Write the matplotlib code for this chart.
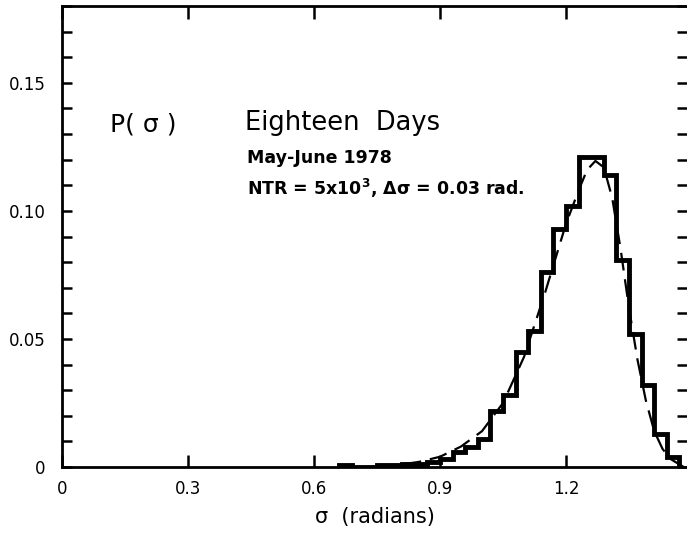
import numpy as np
import matplotlib
matplotlib.use("Agg")
import matplotlib.pyplot as plt

# histogram of sigma, bin width 0.03 rad
bin_edges = [0.66, 0.69, 0.72, 0.75, 0.78, 0.81, 0.84, 0.87, 0.90, 0.93,
             0.96, 0.99, 1.02, 1.05, 1.08, 1.11, 1.14, 1.17, 1.20, 1.23,
             1.26, 1.29, 1.32, 1.35, 1.38, 1.41, 1.44, 1.47]
p_sigma = [0.0008, 0.0, 0.0, 0.0006, 0.0006, 0.001, 0.001, 0.0018, 0.003,
           0.006, 0.008, 0.011, 0.022, 0.028, 0.045, 0.053, 0.076, 0.093,
           0.102, 0.121, 0.121, 0.114, 0.081, 0.052, 0.032, 0.013, 0.004]

# dashed fitted curve
fit_sigma = [0.75, 0.80, 0.85, 0.90, 0.95, 1.00, 1.05, 1.10, 1.15, 1.20,
             1.23, 1.25, 1.27, 1.29, 1.31, 1.33, 1.35, 1.37, 1.39, 1.41,
             1.43, 1.45, 1.48]
fit_p = [0.0003, 0.0008, 0.002, 0.004, 0.008, 0.014, 0.025, 0.043, 0.068,
         0.095, 0.108, 0.116, 0.1195, 0.117, 0.105, 0.085, 0.062, 0.042,
         0.026, 0.014, 0.007, 0.003, 0.0]

x_ticks = [0, 0.3, 0.6, 0.9, 1.2]
x_ticklabels = ["0", "0.3", "0.6", "0.9", "1.2"]
y_ticks = [0, 0.05, 0.10, 0.15]
y_ticklabels = ["0", "0.05", "0.10", "0.15"]

fig = plt.figure(figsize=(6.87, 5.39), dpi=100)
ax = fig.add_axes([62 / 687, 72 / 539, 625 / 687, 461 / 539])

ax.stairs(p_sigma, bin_edges, baseline=0, color='black', linewidth=3.5)
ax.plot(fit_sigma, fit_p, color='black', linewidth=1.6, dashes=(8, 4))

ax.set_xlim(0, 1.488)
ax.set_ylim(0, 0.18)

ax.set_xticks(x_ticks)
ax.set_xticklabels(x_ticklabels)
ax.set_yticks(y_ticks)
ax.set_yticklabels(y_ticklabels)
ax.set_yticks(np.arange(0, 0.181, 0.01), minor=True)

ax.tick_params(axis='x', which='major', direction='in', length=9, width=1.8,
               top=True, pad=9, labelsize=12)
ax.tick_params(axis='y', which='major', direction='in', length=7.5, width=1.8,
               right=True, pad=12, labelsize=12)
ax.tick_params(axis='y', which='minor', direction='in', length=7.5, width=1.8,
               right=True)

for s in ['left', 'bottom', 'top']:
    ax.spines[s].set_linewidth(2)
ax.spines['right'].set_visible(False)

ax.set_xlabel("σ  (radians)", fontsize=15, labelpad=7)

fig.text(110 / 687, 1 - 125 / 539, "P( σ )", fontsize=18, va='center')
fig.text(245 / 687, 1 - 123 / 539, "Eighteen  Days", fontsize=18.5, va='center')
fig.text(247 / 687, 1 - 158 / 539, "May-June 1978", fontsize=12.5,
         fontweight='bold', va='center')
fig.text(247 / 687, 1 - 188 / 539, "NTR = 5x10$^{\\mathbf{3}}$, Δσ = 0.03 rad.",
         fontsize=12.5, fontweight='bold', va='center')

plt.savefig("out.png", dpi=100)
